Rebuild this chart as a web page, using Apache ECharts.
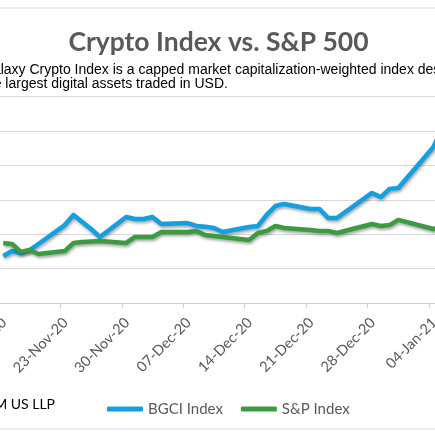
<!DOCTYPE html>
<html>
<head>
<meta charset="utf-8">
<style>
  html, body { margin: 0; padding: 0; background: #fff; }
  #chart { width: 435px; height: 435px; }
</style>
<script src="https://cdn.jsdelivr.net/npm/echarts@6/dist/echarts.min.js"></script>
</head>
<body>
<div id="chart"></div>
<script>
// trading days shown in the crop
var dates = [
  "2020-11-16", "2020-11-17", "2020-11-18", "2020-11-19", "2020-11-20",
  "2020-11-23", "2020-11-24", "2020-11-25", "2020-11-26", "2020-11-27",
  "2020-11-30", "2020-12-01", "2020-12-02", "2020-12-03", "2020-12-04",
  "2020-12-07", "2020-12-08", "2020-12-09", "2020-12-10", "2020-12-11",
  "2020-12-14", "2020-12-15", "2020-12-16", "2020-12-17", "2020-12-18",
  "2020-12-21", "2020-12-22", "2020-12-23", "2020-12-24",
  "2020-12-28", "2020-12-29", "2020-12-30", "2020-12-31",
  "2021-01-04", "2021-01-05"
];

var bgciIndex = [
  87.3, 90.2, 89.1, 90.8, 94.3,
  105.3, 111.2, 107.1, 103.0, 98.4,
  110.0, 108.8, 108.8, 110.0, 105.9,
  106.5, 104.8, 104.4, 103.6, 101.3,
  104.2, 104.8, 111.2, 116.4, 117.6,
  114.7, 114.7, 109.4, 109.4,
  124.0, 121.6, 126.3, 126.9,
  150.7, 161.7
];

// S&P closed on Thanksgiving
var spIndex = [
  94.9, 94.3, 89.7, 90.8, 88.5,
  90.2, 94.9, 95.5, null, 96.0,
  94.9, 98.4, 98.4, 98.4, 101.3,
  101.3, 101.9, 99.5, 99.0, 98.4,
  96.6, 100.7, 101.9, 104.8, 103.6,
  102.4, 101.9, 101.9, 100.7,
  105.9, 104.8, 105.3, 108.3,
  103.0, 104.2
];

// weekly ticks, days counted from 16-Nov-20 (first one is -7)
var tickLabels = [
  "09-Nov-20", "16-Nov-20", "23-Nov-20", "30-Nov-20", "07-Dec-20",
  "14-Dec-20", "21-Dec-20", "28-Dec-20", "04-Jan-21", "11-Jan-21"
];

var origin = Date.UTC(2020, 10, 16);
function dayOf(s) {
  var p = s.split("-");
  return (Date.UTC(+p[0], +p[1] - 1, +p[2]) - origin) / 86400000;
}
// points sit in the middle of their day slot
function pairs(values) {
  return dates.map(function (d, i) { return [dayOf(d) + 0.5, values[i]]; });
}

var chart = echarts.init(document.getElementById("chart"));
var grey = "#595959";
var lineShadow = { shadowColor: "rgba(0,0,0,0.35)", shadowBlur: 3, shadowOffsetX: 1, shadowOffsetY: 2 };

chart.setOption({
  animation: false,
  backgroundColor: "#fff",
  // the picture is a crop, so the plot runs past both edges
  grid: { left: -62.6, right: -55.5, top: 96.6, bottom: 132, outerBoundsMode: "none", containLabel: false },
  xAxis: {
    type: "value",
    min: -7, max: 56, interval: 7,
    splitLine: { show: false },
    axisLine: { lineStyle: { color: "#d0d0d0", width: 1.2 } },
    axisTick: { show: true, length: 5, lineStyle: { color: "#d0d0d0", width: 1.2 } },
    axisLabel: {
      rotate: 45, margin: 12, verticalAlign: "top", hideOverlap: false,
      color: grey, fontFamily: "Lato", fontSize: 14.5,
      formatter: function (v) { return tickLabels[(v + 7) / 7] || ""; }
    }
  },
  yAxis: {
    type: "value",
    min: 60, max: 180, interval: 20,
    axisLine: { show: false },
    axisTick: { show: false },
    axisLabel: { show: false },
    splitLine: { show: true, lineStyle: { color: "#d9d9d9", width: 1 } }
  },
  legend: {
    left: 102, top: 396,
    icon: "roundRect", itemWidth: 36, itemHeight: 5, itemGap: 18,
    textStyle: { color: grey, fontFamily: "Lato", fontSize: 15, lineHeight: 16 },
    data: ["BGCI Index", "S&P Index"]
  },
  series: [
    {
      name: "BGCI Index", type: "line", data: pairs(bgciIndex),
      showSymbol: false, symbol: "none", color: "#139fe0",
      lineStyle: Object.assign({ width: 4.5, color: "#139fe0", join: "round" }, lineShadow)
    },
    {
      name: "S&P Index", type: "line", data: pairs(spIndex), connectNulls: true,
      showSymbol: false, symbol: "none", color: "#3a9b41",
      lineStyle: Object.assign({ width: 4.5, color: "#3a9b41", join: "round" }, lineShadow)
    }
  ],
  graphic: [
    { type: "rect", silent: true, z: -1,
      shape: { x: -60, y: 8, width: 560, height: 421 },
      style: { fill: null, stroke: "#d9d9d9", lineWidth: 1.2 } },
    { type: "text", silent: true,
      style: { x: 218.5, y: 42, text: "Crypto Index vs. S&P 500", textAlign: "center", textVerticalAlign: "middle",
        font: "bold 26.5px Lato", fill: grey } },
    { type: "text", silent: true,
      style: { x: -18, y: 70, text: "Galaxy Crypto Index is a capped market capitalization-weighted index designed to measure the performance of",
        textAlign: "left", textVerticalAlign: "middle", font: "14px 'Liberation Sans'", fill: "#000" } },
    { type: "text", silent: true,
      style: { x: -18, y: 84, text: "the largest digital assets traded in USD.",
        textAlign: "left", textVerticalAlign: "middle", font: "14px 'Liberation Sans'", fill: "#000" } },
    { type: "text", silent: true,
      style: { x: 55, y: 404, text: "Source: RSM US LLP", textAlign: "right", textVerticalAlign: "middle",
        font: "14px Lato", fill: "#000" } }
  ]
});
</script>
</body>
</html>
